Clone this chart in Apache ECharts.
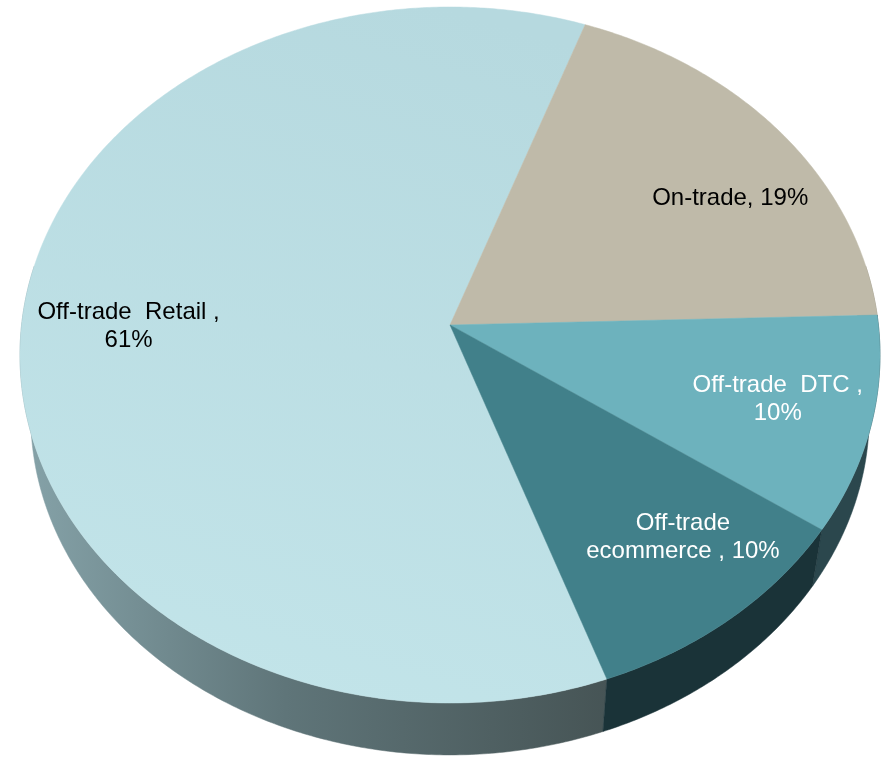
<!DOCTYPE html>
<html>
<head>
<meta charset="utf-8">
<title>Channel mix</title>
<script src="https://cdn.jsdelivr.net/npm/echarts@6/dist/echarts.min.js"></script>
<style>
  html, body { margin: 0; padding: 0; background: #ffffff; }
  #chart { width: 887px; height: 757px; }
</style>
</head>
<body>
<div id="chart"></div>
<script>
// Channel shares (%)
const categories = ['Off-trade  Retail ', 'On-trade', 'Off-trade  DTC ', 'Off-trade\necommerce '];
const shares = [61, 19, 10, 10];
const valueOnNewLine = [true, false, true, false];

const topColors = ['#bddfe5', '#bfbaa9', '#6db2bd', '#41808a'];
const sideColors = ['#4a5a5b', '#8e897b', '#2b474d', '#1a3338'];
const labelColors = ['#000000', '#000000', '#ffffff', '#ffffff'];

// Tilted-disc geometry: a unit circle seen in perspective
const CX = 450, CY = 325;          // projected pie centre
const RX = 428.4, RY = 345.4;      // projected radii
const PERSP = -0.0862;             // perspective foreshortening
const DEPTH = 61.4, BASE_SCALE = 0.975;  // lower face offset and size
const START_DEG = 70.34;           // first slice starts here, running clockwise

// label placement: angle nudge (deg) from slice middle, radius fraction
const labelNudge = [[-0.5, 0.75], [6.5, 0.775], [-0.7, 0.78], [-3.8, 0.78]];

const total = shares.reduce((s, v) => s + v, 0);
const sliceAngles = [];
let acc = START_DEG;
shares.forEach(v => {
  const sweep = v / total * 360;
  sliceAngles.push([acc, acc + sweep]);
  acc += sweep;
});

function project(deg, r, lower) {
  const t = deg * Math.PI / 180;
  const u = r * Math.cos(t), v = r * Math.sin(t);
  const w = 1 + PERSP * v;
  let x = RX * u / w, y = RY * v / w;
  if (lower) {
    return [CX + BASE_SCALE * x, CY + DEPTH + BASE_SCALE * y];
  }
  return [CX + x, CY + y];
}

function arc(a0, a1, lower) {
  const pts = [];
  const n = Math.max(2, Math.ceil(Math.abs(a1 - a0) / 0.5));
  for (let i = 0; i <= n; i++) {
    pts.push(project(a0 + (a1 - a0) * i / n, 1, lower));
  }
  return pts;
}

function sideFill(i) {
  if (i === 0) {
    return new echarts.graphic.LinearGradient(20, 0, 610, 0, [
      { offset: 0, color: '#86a3a9' },
      { offset: 0.45, color: '#5f7579' },
      { offset: 1, color: '#465455' }
    ], true);
  }
  return sideColors[i];
}

function topFill(i) {
  if (i === 0) {
    return new echarts.graphic.LinearGradient(450, 10, 250, 700, [
      { offset: 0, color: '#b6d9df' },
      { offset: 1, color: '#c2e4e9' }
    ], true);
  }
  return topColors[i];
}

// outer walls, only the front half of the rim can show
function renderSide(params, api) {
  const i = params.dataIndex;
  const [a0, a1] = sliceAngles[i];
  const children = [];
  [-360, 0, 360].forEach(off => {
    const lo = Math.max(a0, off - 10), hi = Math.min(a1, off + 190);
    if (hi > lo) {
      const pts = arc(lo, hi, false).concat(arc(hi, lo, true));
      children.push({
        type: 'polygon',
        shape: { points: pts },
        style: { fill: sideFill(i), stroke: sideFill(i), lineWidth: 0.5 }
      });
    }
  });
  return { type: 'group', children };
}

function renderTop(params, api) {
  const i = params.dataIndex;
  const [a0, a1] = sliceAngles[i];
  const pts = [[CX, CY]].concat(arc(a0, a1, false));
  const mid = (a0 + a1) / 2 + labelNudge[i][0];
  const lp = project(mid, labelNudge[i][1], false);
  const text = categories[i] + ',' + (valueOnNewLine[i] ? '\n' : ' ') + api.value(1) + '%';
  return {
    type: 'group',
    children: [
      {
        type: 'polygon',
        shape: { points: pts },
        style: { fill: topFill(i), stroke: topFill(i), lineWidth: 0.5 }
      },
      {
        type: 'text',
        z2: 10,
        style: {
          text: text,
          x: lp[0],
          y: lp[1],
          fill: labelColors[i],
          fontSize: 24,
          fontFamily: '"Liberation Sans", Arial, sans-serif',
          align: 'center',
          verticalAlign: 'middle',
          lineHeight: 28
        }
      }
    ]
  };
}

const seriesData = shares.map((v, i) => ({ name: categories[i], value: [i, v] }));

const chart = echarts.init(document.getElementById('chart'), null, { renderer: 'canvas' });
chart.setOption({
  animation: false,
  backgroundColor: '#ffffff',
  series: [
    { type: 'custom', coordinateSystem: 'none', z: 1, renderItem: renderSide, data: seriesData, silent: true },
    { type: 'custom', coordinateSystem: 'none', z: 2, renderItem: renderTop, data: seriesData, silent: true }
  ]
});
</script>
</body>
</html>
